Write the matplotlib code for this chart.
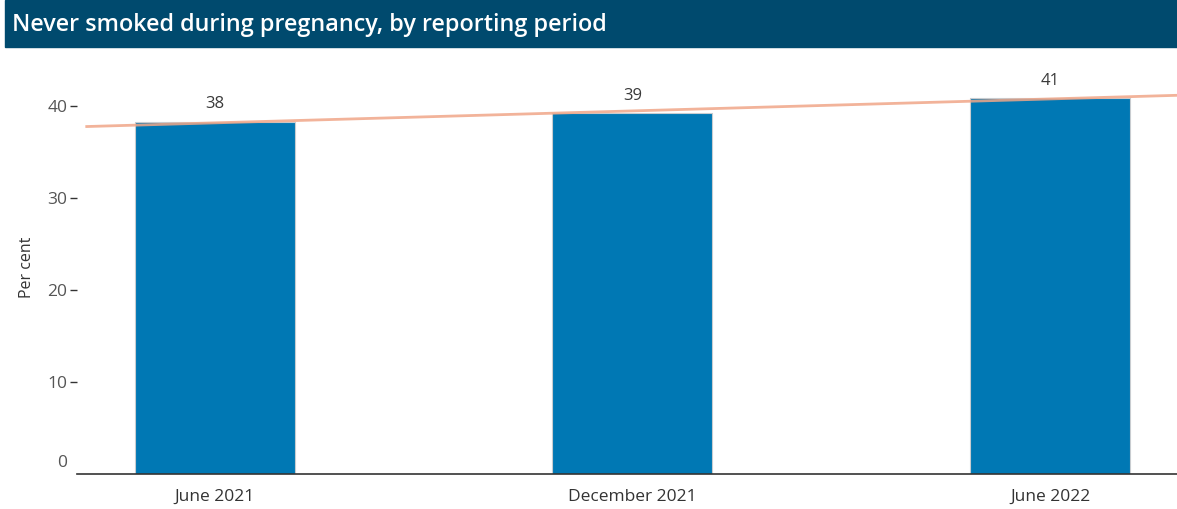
import numpy as np
import matplotlib.pyplot as plt
from matplotlib.patches import Rectangle
from matplotlib.transforms import ScaledTranslation

# reporting periods and share of mothers who never smoked (%)
periods = ['June 2021', 'December 2021', 'June 2022']
never_smoked = [38.3, 39.2, 40.9]
yticks = [0, 10, 20, 30, 40]

plt.rcParams['font.family'] = ['Open Sans', 'DejaVu Sans']

fig = plt.figure(figsize=(11.77, 5.09), dpi=100)

# title banner
fig.patches.append(Rectangle((5 / 1177, 1 - 47 / 509), 1, 47 / 509,
                             transform=fig.transFigure, color='#004a6e', zorder=0))
fig.text(12 / 1177, 1 - 25 / 509, 'Never smoked during pregnancy, by reporting period',
         color='white', fontsize=16.8, fontweight='semibold', va='center', ha='left')

ax = fig.add_axes([77 / 1177, 35 / 509, 1 - 77 / 1177, (474 - 60) / 509])

x = np.arange(len(periods))
bars = ax.bar(x, never_smoked, width=0.383, color='#0078b4',
              edgecolor='#c8ccd0', linewidth=0.8, zorder=2)

for xi, v in zip(x, never_smoked):
    ax.text(xi, v + 1.0, f'{v:.0f}', ha='center', va='bottom',
            fontsize=12, color='#3a3a3a', zorder=4)

# linear trend across the periods
slope, intercept = np.polyfit(x, never_smoked, 1)
xt = np.array([-0.31, 2.31])
ax.plot(xt, intercept + slope * xt, color='#f0a688', linewidth=2,
        alpha=0.85, zorder=3, solid_capstyle='butt')

ax.set_xlim(-0.33, 2.304)
ax.set_ylim(0, 45)
ax.set_xticks(x)
ax.set_xticklabels(periods)
ax.set_yticks(yticks)
ax.tick_params(axis='x', length=0, pad=11, labelsize=12.5, labelcolor='#333333')
ax.tick_params(axis='y', length=5, width=1, color='#333333', pad=2,
               labelsize=12.5, labelcolor='#555555')
ax.yaxis.get_major_ticks()[0].tick1line.set_visible(False)
zero_label = ax.get_yticklabels()[0]
zero_label.set_transform(zero_label.get_transform() +
                         ScaledTranslation(0, 13 / 100, fig.dpi_scale_trans))

ax.set_ylabel('Per cent', fontsize=11.5, color='#333333', labelpad=9)

for s in ['top', 'right', 'left']:
    ax.spines[s].set_visible(False)
ax.spines['bottom'].set_color('#333333')
ax.spines['bottom'].set_linewidth(1.2)

fig.savefig('out.png', dpi=100)
